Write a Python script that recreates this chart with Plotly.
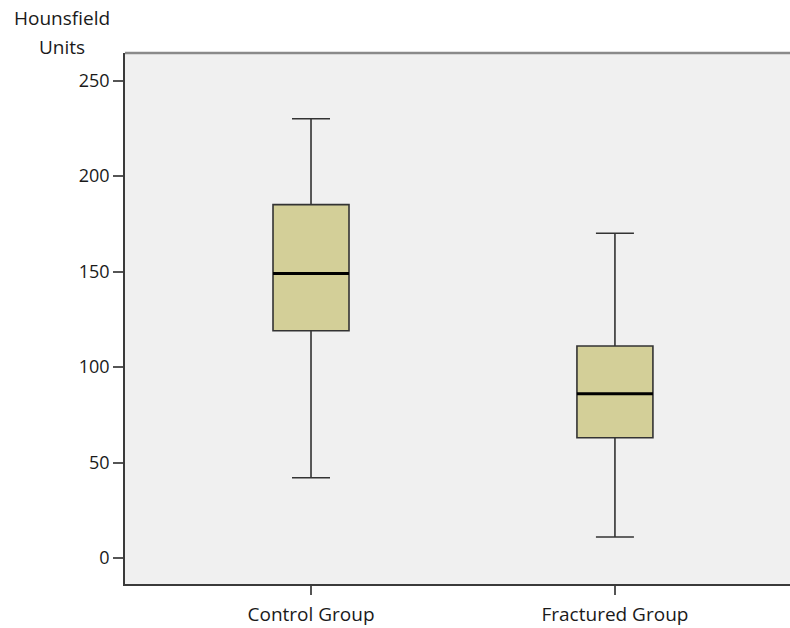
import plotly.graph_objects as go

groups = ["Control Group", "Fractured Group"]
lower_whisker = [42, 11]
q1 = [119, 63]
median = [149, 86]
q3 = [185, 111]
upper_whisker = [230, 170]

y_ticks = [0, 50, 100, 150, 200, 250]
title_lines = ["Hounsfield", "Units"]

fig = go.Figure()
fig.add_trace(go.Box(
    x=groups, q1=q1, median=median, q3=q3,
    lowerfence=lower_whisker, upperfence=upper_whisker,
    fillcolor="#D3CF98", line=dict(color="#333333", width=1.6),
    width=0.25, whiskerwidth=0.5, boxpoints=False, showlegend=False,
    hoverinfo="skip",
))
# thick median line
fig.add_trace(go.Box(
    x=groups, q1=median, median=median, q3=median,
    lowerfence=median, upperfence=median,
    fillcolor="rgba(0,0,0,0)", line=dict(color="#000000", width=3),
    width=0.25, whiskerwidth=0, boxpoints=False, showlegend=False,
    hoverinfo="skip",
))

W, H = 790, 628
ml, mr, mt, mb = 125, 0, 53, 44
ph = H - mt - mb
pw = W - ml - mr


def py(pix):
    return 1 + (mt - pix) / ph


fig.update_layout(
    width=W, height=H,
    margin=dict(l=ml, r=mr, t=mt, b=mb),
    paper_bgcolor="white", plot_bgcolor="#F0F0F0",
    font=dict(family="Open Sans", color="#1a1a1a", size=17),
    showlegend=False,
    xaxis=dict(
        type="category", range=[-0.612, 1.576], automargin=False,
        showgrid=False, zeroline=False,
        showline=True, linecolor="#3a3a3a", linewidth=1.5,
        ticks="outside", ticklen=9, tickwidth=1.5, tickcolor="#555555",
        tickfont=dict(size=19, family="Open Sans", color="#1a1a1a"),
        ticklabelstandoff=3,
    ),
    yaxis=dict(
        range=[-13.6, 264.4], tickvals=y_ticks, automargin=False,
        showgrid=False, zeroline=False,
        showline=True, linecolor="#3a3a3a", linewidth=1.5,
        ticks="outside", ticklen=10, tickwidth=1.5, tickcolor="#555555",
        tickfont=dict(size=18, family="Open Sans", color="#1a1a1a"),
    ),
    shapes=[dict(type="line", xref="paper", yref="paper", x0=0, x1=1, y0=1, y1=1,
                 line=dict(color="#8a8a8a", width=2.5))],
    annotations=[
        dict(text=t, xref="paper", yref="paper",
             x=(62 - ml) / pw, y=py(yp),
             xanchor="center", yanchor="middle", showarrow=False,
             font=dict(size=19, family="Open Sans", color="#1a1a1a"))
        for t, yp in zip(title_lines, [18, 47])
    ],
)

fig.write_html(
    "out.html",
    config={"displayModeBar": False},
    post_script="document.body.style.margin='0';document.body.style.overflow='hidden';",
)
